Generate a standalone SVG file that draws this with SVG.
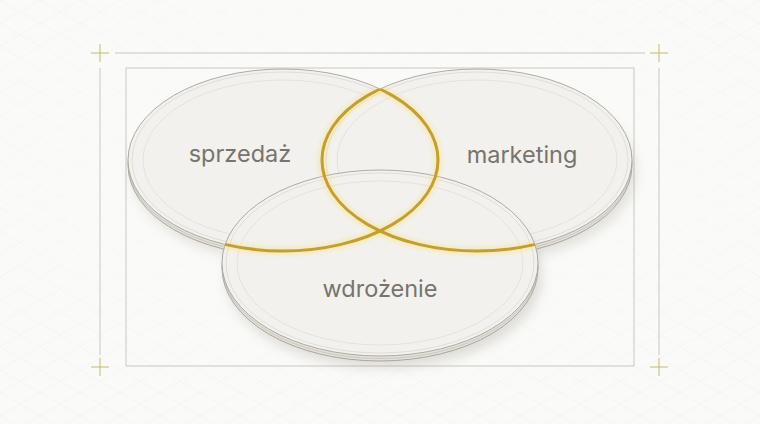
<svg xmlns="http://www.w3.org/2000/svg" width="760" height="424" viewBox="0 0 760 424">
<defs>
<style>
.frame{fill:none;stroke:#cbc7bf;stroke-width:1}
.cross{stroke:#c2bb6a;stroke-width:1}
.rim{fill:#e4e1da;stroke:#9b978f;stroke-width:0.8}
.rimline{fill:none;stroke:#b9b5ad;stroke-width:0.6}
.face{fill:#f2f1ed;stroke:#a7a39b;stroke-width:0.9}
.ring1{fill:none;stroke:#d3d0c9;stroke-width:0.6}
.ring2{fill:none;stroke:#dcd9d2;stroke-width:0.6}
.label{font-family:Inter,"Noto Sans",sans-serif;font-size:23.5px;fill:#77746d;text-anchor:middle}
.gold{fill:none;stroke:#c69f24;stroke-width:3}
.goldglow{fill:none;stroke:#f3e08a;stroke-width:8;opacity:0.45}
</style>
<pattern id="grid" width="40" height="23.1" patternUnits="userSpaceOnUse">
<path d="M0 0 L40 23.1 M40 0 L0 23.1" stroke="#efeee9" stroke-width="0.6" fill="none"/>
</pattern>
<radialGradient id="fade" cx="50%" cy="40%" r="60%">
<stop offset="0" stop-color="#fafaf8" stop-opacity="1"/>
<stop offset="0.6" stop-color="#fafaf8" stop-opacity="0.7"/>
<stop offset="1" stop-color="#fafaf8" stop-opacity="0.2"/>
</radialGradient>
<filter id="shadow" x="-20%" y="-30%" width="140%" height="170%">
<feGaussianBlur stdDeviation="6"/>
</filter>
<filter id="glow" x="-10%" y="-10%" width="120%" height="120%">
<feGaussianBlur stdDeviation="2"/>
</filter>
<clipPath id="clipBC">
<ellipse cx="477" cy="160" rx="155" ry="91"/>
<ellipse cx="380" cy="263" rx="158" ry="93"/>
</clipPath>
<clipPath id="clipAC">
<ellipse cx="283" cy="160" rx="155" ry="91"/>
<ellipse cx="380" cy="263" rx="158" ry="93"/>
</clipPath>
</defs>

<rect width="760" height="424" fill="#fafaf8"/>
<rect width="760" height="424" fill="url(#grid)"/>
<rect width="760" height="424" fill="url(#fade)"/>

<g id="frame">
<line class="frame" x1="115" y1="53" x2="645" y2="53"/>
<line class="frame" x1="100" y1="68" x2="100" y2="355"/>
<line class="frame" x1="659" y1="68" x2="659" y2="355"/>
<rect class="frame" x="126" y="68" width="508" height="298"/>
<g class="cross">
<line x1="91" y1="53" x2="109" y2="53"/><line x1="100" y1="44" x2="100" y2="62"/>
<line x1="650" y1="53" x2="668" y2="53"/><line x1="659" y1="44" x2="659" y2="62"/>
<line x1="91" y1="367" x2="109" y2="367"/><line x1="100" y1="358" x2="100" y2="376"/>
<line x1="650" y1="367" x2="668" y2="367"/><line x1="659" y1="358" x2="659" y2="376"/>
</g>
</g>

<g id="node-sprzedaz">
<ellipse cx="287" cy="172" rx="155" ry="90" fill="#8a857a" opacity="0.22" filter="url(#shadow)"/>
<ellipse class="rim" cx="283" cy="165" rx="155" ry="91"/>
<ellipse class="rimline" cx="283" cy="162.5" rx="155" ry="91"/>
<ellipse class="face" cx="283" cy="160" rx="155" ry="91"/>
<ellipse class="ring1" cx="283" cy="160" rx="151" ry="88"/>
<ellipse class="ring2" cx="283" cy="160" rx="140" ry="80"/>
<text class="label" x="240" y="162">sprzedaż</text>
</g>

<g id="node-marketing">
<ellipse cx="481" cy="172" rx="155" ry="90" fill="#8a857a" opacity="0.22" filter="url(#shadow)"/>
<ellipse class="rim" cx="477" cy="165" rx="155" ry="91"/>
<ellipse class="rimline" cx="477" cy="162.5" rx="155" ry="91"/>
<ellipse class="face" cx="477" cy="160" rx="155" ry="91"/>
<ellipse class="ring1" cx="477" cy="160" rx="151" ry="88"/>
<ellipse class="ring2" cx="477" cy="160" rx="140" ry="80"/>
<text class="label" x="522" y="163">marketing</text>
</g>

<g id="node-wdrozenie">
<ellipse cx="384" cy="276" rx="158" ry="92" fill="#8a857a" opacity="0.25" filter="url(#shadow)"/>
<ellipse class="rim" cx="380" cy="268" rx="158" ry="93"/>
<ellipse class="rimline" cx="380" cy="265.5" rx="158" ry="93"/>
<ellipse class="face" cx="380" cy="263" rx="158" ry="93"/>
<ellipse class="ring1" cx="380" cy="263" rx="154" ry="90"/>
<ellipse class="ring2" cx="380" cy="263" rx="143" ry="82"/>
<text class="label" x="380" y="297">wdrożenie</text>
</g>

<g id="connectors">
<g filter="url(#glow)">
<ellipse class="goldglow" cx="283" cy="160" rx="155" ry="91" clip-path="url(#clipBC)"/>
<ellipse class="goldglow" cx="477" cy="160" rx="155" ry="91" clip-path="url(#clipAC)"/>
</g>
<ellipse class="gold" cx="283" cy="160" rx="155" ry="91" clip-path="url(#clipBC)"/>
<ellipse class="gold" cx="477" cy="160" rx="155" ry="91" clip-path="url(#clipAC)"/>
</g>
</svg>
